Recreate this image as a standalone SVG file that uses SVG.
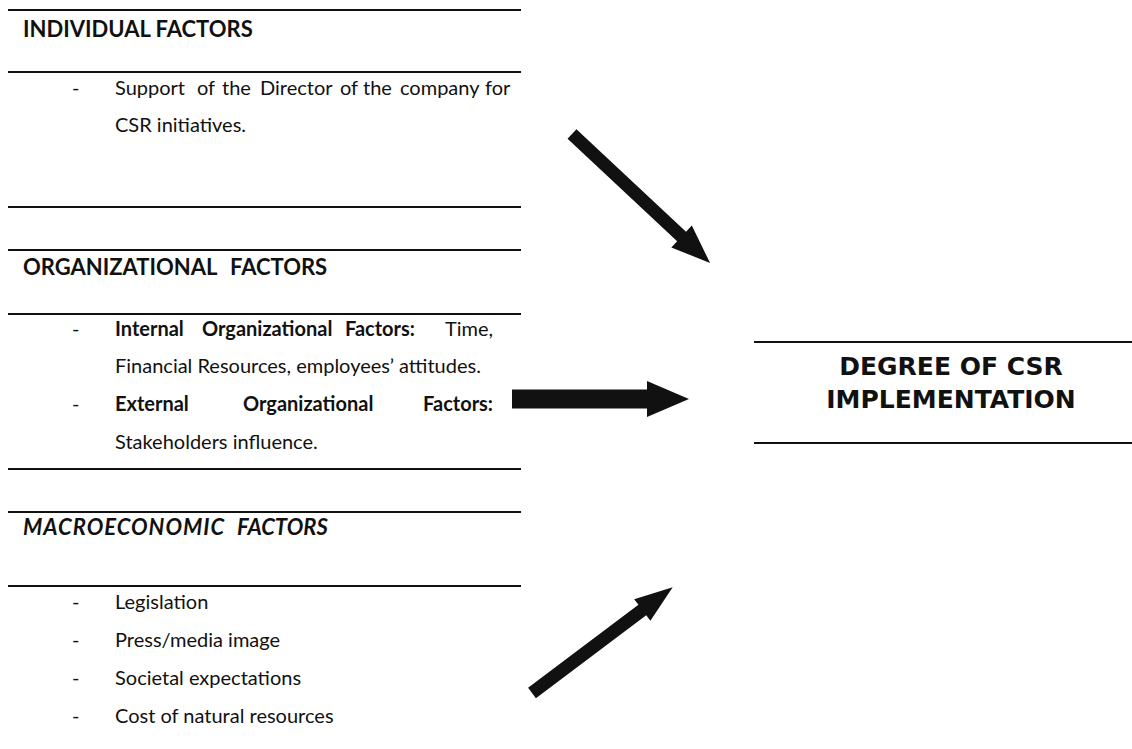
<svg xmlns="http://www.w3.org/2000/svg" width="1132" height="749" viewBox="0 0 1132 749">
<style>
.rule{stroke:#111;stroke-width:2.2;fill:none}
.hd{font-family:Lato,"Open Sans","Liberation Sans",sans-serif;font-weight:bold;font-size:22px;fill:#111}
.tx{font-family:Lato,"Open Sans","Liberation Sans",sans-serif;font-size:20px;fill:#111}
.b{font-weight:bold}
.big{font-family:"DejaVu Sans",Verdana,sans-serif;font-weight:bold;font-size:25px;fill:#111;text-anchor:middle}
.arr{fill:#111}
</style>
<rect width="1132" height="749" fill="#fff"/>
<g id="individual">
<line class="rule" x1="8" y1="10" x2="521" y2="10"/>
<text class="hd" x="23" y="37">INDIVIDUAL FACTORS</text>
<line class="rule" x1="8" y1="72" x2="521" y2="72"/>
<text class="tx" x="72" y="95">-</text>
<text class="tx" y="95"><tspan x="115">Support</tspan><tspan x="197">of</tspan><tspan x="222">the</tspan><tspan x="260">Director</tspan><tspan x="340">of</tspan><tspan x="363">the</tspan><tspan x="400">company</tspan><tspan x="485">for</tspan></text>
<text class="tx" x="115" y="132">CSR initiatives.</text>
<line class="rule" x1="8" y1="207" x2="521" y2="207"/>
</g>
<g id="organizational">
<line class="rule" x1="8" y1="250" x2="521" y2="250"/>
<text class="hd" x="23" y="275"><tspan>ORGANIZATIONAL</tspan><tspan x="230">FACTORS</tspan></text>
<line class="rule" x1="8" y1="314" x2="521" y2="314"/>
<text class="tx" x="72" y="336">-</text>
<text class="tx b" x="115" y="336">Internal</text>
<text class="tx b" x="202" y="336">Organizational</text>
<text class="tx b" x="345" y="336">Factors:</text>
<text class="tx" x="493" y="336" text-anchor="end">Time,</text>
<text class="tx" x="115" y="373">Financial Resources, employees’ attitudes.</text>
<text class="tx" x="72" y="411">-</text>
<text class="tx b" x="115" y="411">External</text>
<text class="tx b" x="243" y="411">Organizational</text>
<text class="tx b" x="493" y="411" text-anchor="end">Factors:</text>
<text class="tx" x="115" y="449">Stakeholders influence.</text>
<line class="rule" x1="8" y1="469" x2="521" y2="469"/>
</g>
<g id="macroeconomic">
<line class="rule" x1="8" y1="512" x2="521" y2="512"/>
<text class="hd" x="23" y="535" font-style="italic"><tspan letter-spacing="1">MACROECONOMIC</tspan><tspan x="237">FACTORS</tspan></text>
<line class="rule" x1="8" y1="586" x2="521" y2="586"/>
<text class="tx" x="72" y="609">-</text>
<text class="tx" x="115" y="609">Legislation</text>
<text class="tx" x="72" y="647">-</text>
<text class="tx" x="115" y="647">Press/media image</text>
<text class="tx" x="72" y="685">-</text>
<text class="tx" x="115" y="685">Societal expectations</text>
<text class="tx" x="72" y="723">-</text>
<text class="tx" x="115" y="723">Cost of natural resources</text>
</g>
<g id="degree">
<line class="rule" x1="754" y1="342" x2="1132" y2="342"/>
<text class="big" x="951" y="375">DEGREE OF CSR</text>
<text class="big" x="951" y="408">IMPLEMENTATION</text>
<line class="rule" x1="754" y1="443" x2="1132" y2="443"/>
</g>
<g id="connectors">
<polygon class="arr" transform="translate(572,134) rotate(43.07)" points="0,-6.5 150,-6.5 150,-15 189,0 150,15 150,6.5 0,6.5"/>
<polygon class="arr" transform="translate(512,399)" points="0,-9.5 135,-9.5 135,-18 177,0 135,18 135,9.5 0,9.5"/>
<polygon class="arr" transform="translate(532,693) rotate(-36.94)" points="0,-6.5 138,-6.5 138,-13.5 176,0 138,13.5 138,6.5 0,6.5"/>
</g>
</svg>
